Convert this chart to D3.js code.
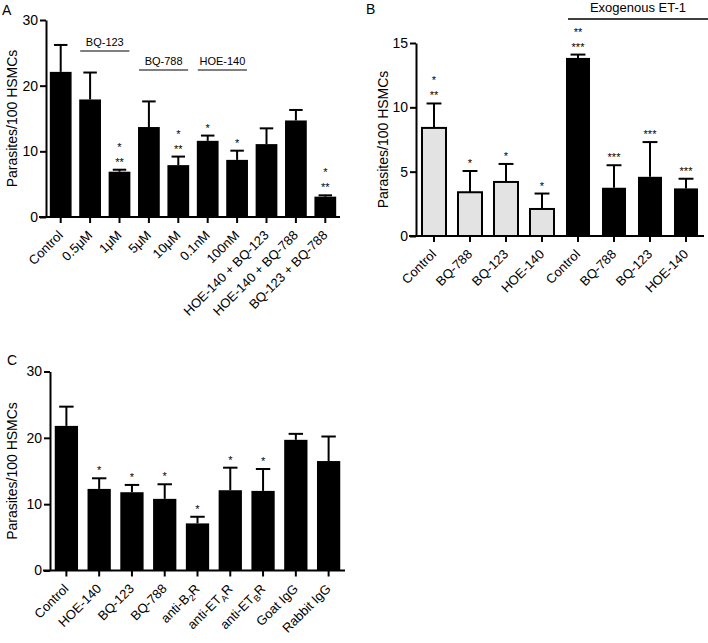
<!DOCTYPE html>
<html><head><meta charset="utf-8">
<script src="https://cdn.jsdelivr.net/npm/d3@7"></script>
<style>body{margin:0;background:#fff}text{font-family:Arial,"Liberation Sans",sans-serif;fill:#000}</style>
</head><body><svg id="c" width="708" height="643"></svg>
<script>
// Panel A
const catsA = ["Control","0.5\u03bcM","1\u03bcM","5\u03bcM","10\u03bcM","0.1nM","100nM","HOE-140  + BQ-123","HOE-140  + BQ-788","BQ-123 + BQ-788"];
const valsA = [22.1,17.9,6.9,13.7,7.9,11.6,8.7,11.1,14.7,3.1];
const errA  = [26.2,22.0,7.2,17.6,9.2,12.4,10.1,13.5,16.3,3.3];
const starsA = [[],[],["*","**"],[],["*","**"],["*"],["*"],[],[],["*","**"]];
const ticksA = [0,10,20,30];
const bracketsA = [{label:"BQ-123",from:1,to:2},{label:"BQ-788",from:3,to:4},{label:"HOE-140",from:5,to:6}];
// Panel B
const catsB = ["Control","BQ-788","BQ-123","HOE-140","Control","BQ-788","BQ-123","HOE-140"];
const valsB = [8.4,3.4,4.2,2.1,13.84,3.75,4.6,3.7];
const errB  = [10.3,5.05,5.6,3.3,14.1,5.5,7.3,4.45];
const groupB = ["light","light","light","light","dark","dark","dark","dark"];
const starsB = [["*","**"],["*"],["*"],["*"],["**","***"],["***"],["***"],["***"]];
const ticksB = [0,5,10,15];
// Panel C
const catsC = ["Control","HOE-140","BQ-123","BQ-788","anti-B|2|R","anti-ET|A|R","anti-ET|B|R","Goat IgG","Rabbit IgG"];
const valsC = [21.8,12.3,11.8,10.8,7.1,12.1,12.0,19.7,16.5];
const errC  = [24.7,13.9,12.9,13.0,8.1,15.5,15.3,20.6,20.2];
const starsC = [[],["*"],["*"],["*"],["*"],["*"],["*"],[],[]];
const ticksC = [0,10,20,30];

const svg = d3.select("#c");
const yTitle = "Parasites/100 HSMCs";

function panel(o){
  const g = svg.append("g");
  const x = d3.scaleBand().domain(d3.range(o.cats.length)).range([o.x0,o.x1]).paddingInner(o.pad).paddingOuter(o.pad/2);
  const y = d3.scaleLinear().domain([0,o.ymax]).range([o.y0,o.ytop]);
  g.selectAll("rect.bar").data(o.vals).enter().append("rect")
    .attr("x",(d,i)=>x(i)).attr("width",x.bandwidth())
    .attr("y",d=>y(d)).attr("height",d=>y(0)-y(d))
    .attr("fill",(d,i)=>o.fill?o.fill(i):"#000")
    .attr("stroke","#000").attr("stroke-width",(d,i)=>o.fill&&o.fill(i)!="#000"?2:0);
  const capW = x.bandwidth()*0.62;
  o.errs.forEach((e,i)=>{
    const cx = x(i)+x.bandwidth()/2;
    g.append("line").attr("x1",cx).attr("x2",cx).attr("y1",y(o.vals[i])).attr("y2",y(e)).attr("stroke","#000").attr("stroke-width",2);
    g.append("line").attr("x1",cx-capW/2).attr("x2",cx+capW/2).attr("y1",y(e)).attr("y2",y(e)).attr("stroke","#000").attr("stroke-width",2);
    const st = o.stars[i];
    st.forEach((s,k)=>{
      const n = st.length;
      g.append("text").attr("text-anchor","middle").attr("font-size",11)
        .attr("transform",`translate(${cx},${y(e)-4-(n-1-k)*o.starGap}) rotate(0.01)`).text(s);
    });
  });
  const ya = g.append("g").attr("transform",`translate(${o.x0},0)`)
    .call(d3.axisLeft(y).tickValues(o.ticks).tickSize(6).tickSizeOuter(0).tickPadding(2));
  ya.select(".domain").attr("stroke-width",2);
  ya.selectAll(".tick line").attr("stroke-width",2);
  ya.selectAll(".tick text").attr("font-size",14).attr("font-family","Arial,'Liberation Sans',sans-serif");
  const xa = g.append("g").attr("transform",`translate(0,${o.y0})`)
    .call(d3.axisBottom(x).tickSize(6).tickSizeOuter(0).tickFormat(""));
  xa.select(".domain").attr("stroke-width",2).attr("d",`M${o.x0-7},0H${o.x1}`);
  xa.selectAll(".tick line").attr("stroke-width",2);
  o.cats.forEach((c,i)=>{
    const cx = x(i)+x.bandwidth()/2;
    const t = g.append("text").attr("text-anchor","end").attr("font-size",13)
      .attr("transform",`translate(${cx+3},${o.y0+19}) rotate(-45)`);
    const parts = c.split("|");
    if(parts.length===1) t.text(c);
    else {
      t.append("tspan").text(parts[0]);
      t.append("tspan").attr("font-size",9).attr("dy",3).text(parts[1]);
      t.append("tspan").attr("dy",-3).text(parts[2]);
    }
  });
  svg.append("text").attr("transform",`translate(${o.titleX},${(o.y0+o.ytop)/2}) rotate(-90)`)
    .attr("text-anchor","middle").attr("font-size",14).text(yTitle);
  svg.append("text").attr("x",o.lx).attr("y",o.ly).attr("font-size",14).text(o.letter);
  return {x,y,g};
}

const A = panel({cats:catsA,vals:valsA,errs:errA,stars:starsA,ticks:ticksA,ymax:30,
  x0:46,x1:340,y0:217,ytop:20,pad:0.26,starGap:15,titleX:17,letter:"A",lx:2,ly:15});
bracketsA.forEach(b=>{
  const x1 = A.x(b.from)+1, x2 = A.x(b.to)+A.x.bandwidth()-1;
  const yy = b.label==="BQ-123"?51:70;
  A.g.append("line").attr("x1",x1).attr("x2",x2).attr("y1",yy).attr("y2",yy).attr("stroke","#000").attr("stroke-width",1);
  A.g.append("text").attr("x",(x1+x2)/2).attr("y",yy-5).attr("text-anchor","middle").attr("font-size",11).text(b.label);
});

const B = panel({cats:catsB,vals:valsB,errs:errB,stars:starsB,ticks:ticksB,ymax:15,
  x0:416,x1:704,y0:236,ytop:43,pad:0.333,starGap:15,titleX:388,letter:"B",lx:366,ly:14,
  fill:i=>groupB[i]==="light"?"#e3e3e3":"#000"});
B.g.append("line").attr("x1",568).attr("x2",708).attr("y1",19).attr("y2",19).attr("stroke","#000").attr("stroke-width",1.5);
B.g.append("text").attr("x",638).attr("y",12).attr("text-anchor","middle").attr("font-size",13).text("Exogenous ET-1");

panel({cats:catsC,vals:valsC,errs:errC,stars:starsC,ticks:ticksC,ymax:30,
  x0:50,x1:345,y0:570.5,ytop:371.5,pad:0.29,starGap:15,titleX:17,letter:"C",lx:7,ly:365});
</script></body></html>
